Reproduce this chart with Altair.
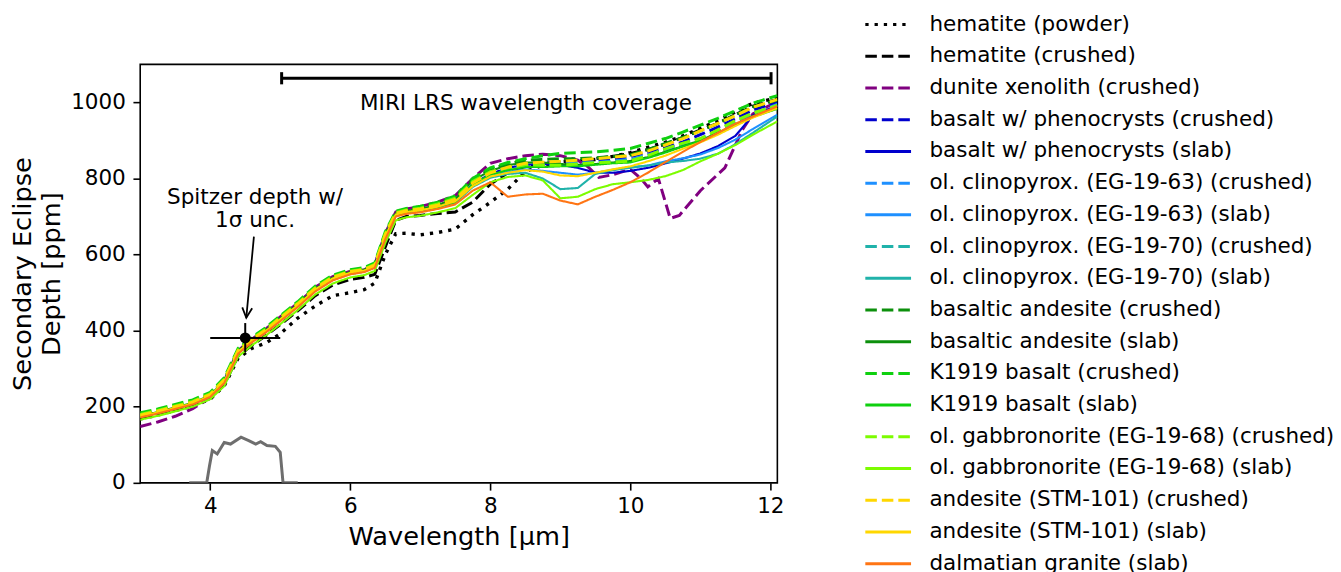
import altair as alt
import pandas as pd

# ---------------- data ----------------
WL = [3.0, 3.25, 3.5, 3.75, 4.0, 4.2, 4.4, 4.6, 4.8, 5.0, 5.25, 5.5, 5.75, 6.0, 6.2, 6.35,
      6.5, 6.65, 6.8, 7.0, 7.25, 7.5, 7.75, 8.0, 8.25, 8.5, 8.75, 9.0, 9.25, 9.5, 9.75,
      10.0, 10.25, 10.5, 10.75, 11.0, 11.25, 11.5, 11.75, 12.1]

SERIES = [
    "hematite (powder)", "hematite (crushed)", "dunite xenolith (crushed)",
    "basalt w/ phenocrysts (crushed)", "basalt w/ phenocrysts (slab)",
    "ol. clinopyrox. (EG-19-63) (crushed)", "ol. clinopyrox. (EG-19-63) (slab)",
    "ol. clinopyrox. (EG-19-70) (crushed)", "ol. clinopyrox. (EG-19-70) (slab)",
    "basaltic andesite (crushed)", "basaltic andesite (slab)",
    "K1919 basalt (crushed)", "K1919 basalt (slab)",
    "ol. gabbronorite (EG-19-68) (crushed)", "ol. gabbronorite (EG-19-68) (slab)",
    "andesite (STM-101) (crushed)", "andesite (STM-101) (slab)",
    "dalmatian granite (slab)",
]
STYLES = ["dotted", "dashed", "dashed", "dashed", "solid", "dashed", "solid", "dashed", "solid",
          "dashed", "solid", "dashed", "solid", "dashed", "solid", "dashed", "solid", "solid"]
COLORS = ["#000000", "#000000", "#800080", "#0000CD", "#0000CD", "#1E90FF", "#1E90FF",
          "#20B2AA", "#20B2AA", "#0C900C", "#0C900C", "#0FD00F", "#0FD00F", "#7CFC00", "#7CFC00",
          "#FFD700", "#FFD700", "#FF7514"]

HEMATITE_POWDER = [168, 178, 190, 202, 220, 255, 328, 354, 368, 392, 433, 465, 492, 500, 508, 525,
                   600, 655, 656, 652, 658, 667, 705, 737, 772, 818, 835, 842, 845, 850, 858,
                   868, 882, 895, 912, 932, 952, 975, 998, 1012]
HEMATITE_CRUSHED = [170, 180, 192, 204, 222, 258, 334, 362, 388, 416, 452, 492, 520, 535, 540, 548,
                    620, 690, 700, 703, 708, 712, 738, 785, 815, 832, 840, 844, 846, 852, 858,
                    866, 876, 890, 908, 928, 945, 968, 990, 1008]
WL_DUNITE = [3.0, 3.25, 3.5, 3.75, 4.0, 4.2, 4.4, 4.6, 4.8, 5.0, 5.25, 5.5, 5.75, 6.0, 6.2, 6.35,
             6.5, 6.65, 6.8, 7.0, 7.25, 7.5, 7.75, 8.0, 8.25, 8.5, 8.75, 9.0, 9.25, 9.4, 9.55,
             9.75, 10.0, 10.15, 10.25, 10.4, 10.57, 10.7, 11.0, 11.35, 11.6, 11.75, 12.1]
DUNITE_CRUSHED = [148, 160, 175, 195, 225, 268, 348, 378, 405, 436, 472, 514, 542, 556, 560, 574,
                  656, 712, 720, 726, 738, 755, 800, 840, 852, 860, 864, 860, 848, 830, 803,
                  810, 824, 800, 778, 800, 695, 703, 768, 828, 928, 970, 1002]
BASALT_PH_CRUSHED = [177, 187, 199, 211, 231, 268, 347, 376, 402, 432, 469, 510, 539, 554, 560, 571,
                     651, 707, 714, 719, 730, 746, 790, 816, 830, 840, 842, 842, 844, 848, 852,
                     857, 868, 881, 896, 915, 935, 957, 980, 1000]
BASALT_PH_SLAB = [174, 184, 196, 208, 228, 265, 344, 373, 399, 429, 466, 507, 536, 551, 557, 568,
                  647, 704, 711, 716, 727, 742, 786, 812, 828, 836, 838, 836, 828, 815, 815,
                  820, 828, 840, 852, 866, 885, 912, 966, 992]
EG1963_CRUSHED = [176, 186, 198, 210, 230, 267, 346, 375, 401, 431, 468, 509, 538, 553, 559, 570,
                  649, 706, 713, 718, 729, 744, 788, 814, 826, 836, 838, 838, 840, 842, 846,
                  850, 862, 876, 890, 905, 922, 948, 970, 995]
EG1963_SLAB = [174, 184, 196, 208, 228, 265, 343, 373, 399, 428, 465, 506, 535, 550, 556, 567,
               646, 704, 711, 715, 726, 740, 782, 808, 818, 824, 820, 815, 810, 815, 823,
               830, 834, 845, 853, 863, 880, 902, 930, 968]
EG1970_CRUSHED = [175, 185, 197, 209, 229, 266, 345, 374, 400, 430, 467, 508, 537, 552, 558, 569,
                  648, 705, 712, 717, 728, 742, 786, 812, 825, 834, 836, 836, 838, 840, 844,
                  848, 860, 874, 888, 902, 920, 945, 968, 993]
EG1970_SLAB = [173, 183, 195, 207, 227, 264, 342, 372, 398, 427, 464, 505, 534, 549, 555, 566,
               645, 703, 710, 714, 724, 736, 778, 802, 812, 815, 800, 772, 775, 812, 822,
               828, 834, 842, 846, 852, 865, 890, 920, 963]
BAS_AND_CRUSHED = [179, 189, 201, 213, 233, 271, 350, 379, 405, 435, 472, 513, 542, 556, 562, 573,
                   653, 710, 718, 723, 734, 750, 798, 825, 838, 848, 850, 852, 852, 854, 858,
                   862, 876, 892, 908, 925, 945, 967, 988, 1006]
BAS_AND_SLAB = [176, 186, 198, 210, 230, 268, 347, 376, 402, 432, 469, 510, 539, 554, 560, 571,
                651, 708, 715, 720, 731, 746, 795, 820, 835, 842, 842, 838, 836, 838, 842,
                846, 856, 870, 885, 900, 920, 942, 964, 986]
K1919_CRUSHED = [184, 194, 206, 218, 238, 276, 354, 383, 409, 439, 476, 517, 546, 560, 566, 578,
                 660, 714, 721, 727, 738, 754, 800, 828, 842, 852, 860, 866, 868, 870, 874,
                 879, 892, 905, 922, 940, 958, 978, 998, 1018]
K1919_SLAB = [174, 184, 196, 208, 228, 265, 344, 373, 399, 429, 466, 507, 536, 551, 557, 568,
              647, 704, 711, 715, 725, 738, 785, 810, 822, 830, 830, 832, 832, 836, 840,
              842, 854, 868, 884, 898, 918, 940, 962, 983]
GABBRO_CRUSHED = [180, 190, 202, 214, 234, 272, 350, 379, 405, 435, 472, 513, 542, 556, 562, 574,
                  655, 710, 717, 722, 733, 748, 792, 818, 828, 836, 835, 835, 838, 842, 843,
                  846, 860, 878, 893, 905, 928, 952, 972, 992]
GABBRO_SLAB = [166, 176, 188, 200, 220, 254, 332, 362, 388, 417, 454, 495, 524, 540, 546, 557,
               630, 690, 698, 702, 711, 722, 757, 790, 804, 808, 795, 748, 752, 772, 785,
               790, 796, 806, 822, 845, 865, 888, 915, 950]
ANDESITE_CRUSHED = [178, 188, 200, 212, 232, 270, 348, 377, 403, 433, 470, 511, 540, 555, 561, 572,
                    652, 708, 715, 720, 730, 745, 788, 815, 830, 840, 843, 845, 848, 852, 856,
                    860, 872, 888, 905, 925, 945, 965, 987, 1008]
ANDESITE_SLAB = [175, 185, 197, 209, 229, 266, 345, 374, 400, 430, 467, 508, 537, 552, 558, 569,
                 648, 705, 712, 716, 726, 740, 780, 805, 815, 822, 818, 808, 806, 815, 824,
                 832, 845, 860, 878, 895, 915, 938, 960, 985]
DALMATIAN_SLAB = [172, 182, 194, 206, 226, 262, 340, 370, 396, 425, 462, 503, 532, 548, 554, 565,
                  640, 700, 707, 711, 720, 732, 768, 790, 752, 758, 760, 742, 732, 752, 770,
                  790, 815, 843, 870, 896, 920, 944, 963, 990]

SERIES_VALUES = [HEMATITE_POWDER, HEMATITE_CRUSHED, DUNITE_CRUSHED, BASALT_PH_CRUSHED, BASALT_PH_SLAB,
                 EG1963_CRUSHED, EG1963_SLAB, EG1970_CRUSHED, EG1970_SLAB, BAS_AND_CRUSHED, BAS_AND_SLAB,
                 K1919_CRUSHED, K1919_SLAB, GABBRO_CRUSHED, GABBRO_SLAB, ANDESITE_CRUSHED,
                 ANDESITE_SLAB, DALMATIAN_SLAB]

# Spitzer 4.5 um bandpass (arbitrary scale, drawn at the bottom)
WL_BAND = [3.7, 3.95, 3.99, 4.03, 4.1, 4.2, 4.29, 4.44, 4.55, 4.65, 4.72, 4.81, 4.93, 5.0, 5.04, 5.25]
BAND = [0, 0, 45, 85, 76, 106, 102, 120, 111, 102, 108, 98, 96, 80, 0, 0]

# Spitzer eclipse depth with 1 sigma uncertainty
SPITZER_WL = [4.5]
SPITZER_DEPTH = [381]
SPITZER_WL_LO = [4.0]
SPITZER_WL_HI = [5.0]
SPITZER_D_LO = [344]
SPITZER_D_HI = [420]

# MIRI LRS coverage bar
MIRI_WL = [5.02, 12.01]
MIRI_DEPTH = [1063.5]
MIRI_CAP = [1047.5, 1079.5]

# annotations
ARROW_WL = [4.624, 4.515]
ARROW_DEPTH = [647, 434]
TEXT_WL = [4.64, 4.64, 8.51]
TEXT_DEPTH = [733.5, 671.6, 979]
TEXT = ["Spitzer depth w/", "1σ unc.", "MIRI LRS wavelength coverage"]

DASHES = {"dotted": [3.3, 6.0], "dashed": [11.6, 5.0], "solid": [1, 0]}
WIDTHS = {"dotted": 3.4, "dashed": 3.0, "solid": 2.1}

FONT = "DejaVu Sans"
FS = 21.6      # tick labels, legend, annotations
FS_T = 25.8    # axis titles

# ---------------- build tables ----------------
rows = []
for name, vals in zip(SERIES, SERIES_VALUES):
    xs = WL_DUNITE if name.startswith("dunite") else WL
    for w, v in zip(xs, vals):
        rows.append({"series": name, "wl": w, "depth": v})
spectra = pd.DataFrame(rows)

band = pd.DataFrame({"wl": WL_BAND, "depth": BAND})
spitzer = pd.DataFrame({"wl": SPITZER_WL, "depth": SPITZER_DEPTH, "wl_lo": SPITZER_WL_LO,
                        "wl_hi": SPITZER_WL_HI, "d_lo": SPITZER_D_LO, "d_hi": SPITZER_D_HI})
miri_bar = pd.DataFrame({"wl": [MIRI_WL[0]], "wl2": [MIRI_WL[1]], "depth": MIRI_DEPTH})
miri_caps = pd.DataFrame({"wl": MIRI_WL, "depth": [MIRI_CAP[0]] * 2, "depth2": [MIRI_CAP[1]] * 2})
arrow = pd.DataFrame({"wl": ARROW_WL, "depth": ARROW_DEPTH, "k": [0, 1]})
arrow_tip = pd.DataFrame({"wl": [ARROW_WL[1]], "depth": [ARROW_DEPTH[1]]})
texts = pd.DataFrame({"wl": TEXT_WL, "depth": TEXT_DEPTH, "text": TEXT})

# ---------------- scales / axes ----------------
XS = alt.Scale(domain=[3, 12.1], nice=False, zero=False)
YS = alt.Scale(domain=[0, 1100], nice=False, zero=False)
X_AXIS = alt.Axis(title="Wavelength [µm]", values=[4, 6, 8, 10, 12], format="d", grid=False,
                  domain=False, tickSize=7.3, tickWidth=1.6, tickColor="black",
                  labelFontSize=FS, labelFont=FONT, labelColor="black", labelBaseline="alphabetic",
                  labelPadding=22.5, labelFlush=False,
                  titleFontSize=FS_T, titleFont=FONT, titleFontWeight="normal", titleColor="black",
                  titleBaseline="alphabetic", titleAlign="center", titleX=320.5, titleY=62)
Y_AXIS = alt.Axis(title=["Secondary Eclipse", "Depth [ppm]"], values=[0, 200, 400, 600, 800, 1000],
                  format="d", grid=False, domain=False, tickSize=7.3, tickWidth=1.6, tickColor="black",
                  labelFontSize=FS, labelFont=FONT, labelColor="black", labelPadding=7.7,
                  labelFlush=False,
                  titleFontSize=FS_T, titleFont=FONT, titleFontWeight="normal", titleColor="black",
                  titleAngle=270, titleBaseline="alphabetic", titleAlign="center",
                  titleLineHeight=28.5, titleX=-110, titleY=210.5)


def xe(field):
    return alt.X(f"{field}:Q", scale=XS, axis=X_AXIS)


def ye(field):
    return alt.Y(f"{field}:Q", scale=YS, axis=Y_AXIS)


LEGEND = alt.Legend(title=None, orient="none", legendX=728, legendY=-51.5,
                    symbolType="M -1 0 L 3.6 0", symbolSize=400, symbolStrokeWidth=3,
                    labelFontSize=FS, labelFont=FONT, labelColor="black", labelOffset=43,
                    rowPadding=8.9, symbolLimit=40, labelLimit=600, padding=0)
COLOR = alt.Color("series:N", scale=alt.Scale(domain=SERIES, range=COLORS), legend=LEGEND)
DASH = alt.StrokeDash("series:N", scale=alt.Scale(domain=SERIES, range=[DASHES[s] for s in STYLES]),
                      legend=LEGEND)

layers = []
for name, style in zip(SERIES, STYLES):
    layers.append(
        alt.Chart(spectra)
        .transform_filter(alt.datum.series == name)
        .mark_line(strokeWidth=WIDTHS[style], clip=True, strokeCap="butt")
        .encode(x=xe("wl"), y=ye("depth"), color=COLOR, strokeDash=DASH)
    )

band_layer = alt.Chart(band).mark_line(color="#6e6e6e", strokeWidth=3, clip=True).encode(
    x=xe("wl"), y=ye("depth"))

err_h = alt.Chart(spitzer).mark_rule(color="black", strokeWidth=2).encode(
    x=xe("wl_lo"), x2="wl_hi", y=ye("depth"))
err_v = alt.Chart(spitzer).mark_rule(color="black", strokeWidth=2).encode(
    x=xe("wl"), y=ye("d_lo"), y2="d_hi")
dot = alt.Chart(spitzer).mark_point(filled=True, shape="circle", size=120, color="black",
                                    opacity=1).encode(x=xe("wl"), y=ye("depth"))

bar = alt.Chart(miri_bar).mark_rule(color="black", strokeWidth=3).encode(
    x=xe("wl"), x2="wl2", y=ye("depth"))
caps = alt.Chart(miri_caps).mark_rule(color="black", strokeWidth=3).encode(
    x=xe("wl"), y=ye("depth"), y2="depth2")

arrow_line = alt.Chart(arrow).mark_line(color="black", strokeWidth=1.8).encode(
    x=xe("wl"), y=ye("depth"), order="k:Q")
arrow_head = alt.Chart(arrow_tip).mark_point(shape="M -0.5 -1 L 0 0 L 0.5 -1", size=400,
                                             filled=False, color="black", strokeWidth=1.8,
                                             opacity=1, angle=5.4).encode(x=xe("wl"), y=ye("depth"))

text_layer = alt.Chart(texts).mark_text(font=FONT, fontSize=FS, color="black", align="center",
                                        baseline="alphabetic").encode(
    x=xe("wl"), y=ye("depth"), text="text:N")

chart = alt.layer(
    band_layer, *layers, err_h, err_v, dot, bar, caps, arrow_line, arrow_head, text_layer
).properties(
    width=641, height=421,
    autosize=alt.AutoSizeParams(type="none"),
    padding={"left": 133, "top": 55, "right": 559, "bottom": 88},
).configure(
    font=FONT, background="white",
    view=alt.ViewConfig(stroke="black", strokeWidth=1.6),
)

chart.save("out.html", embed_options={"renderer": "svg", "actions": False})
